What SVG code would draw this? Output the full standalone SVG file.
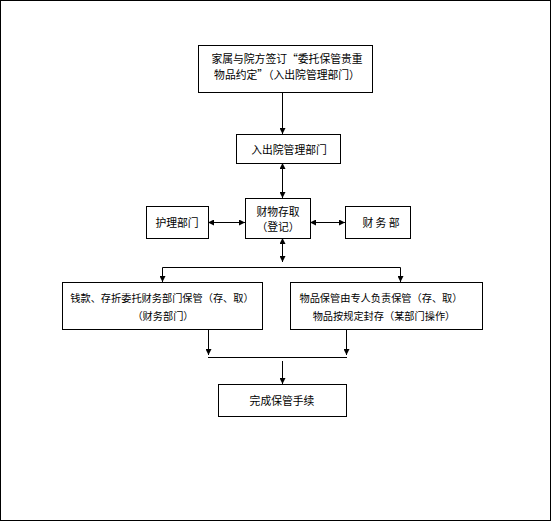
<svg xmlns="http://www.w3.org/2000/svg" width="552" height="522" viewBox="0 0 552 522">
<defs>
<marker id="ah" viewBox="0 0 10 10" refX="10" refY="5" markerWidth="6" markerHeight="6" orient="auto-start-reverse" markerUnits="userSpaceOnUse">
<path d="M0,0 L10,5 L0,10 Z" fill="#000"/>
</marker>
<style>
.box{fill:#fff;stroke:#000;stroke-width:1}
.t{font-family:"Noto Sans CJK SC","Liberation Sans",sans-serif;font-size:10.8px;fill:#000;text-anchor:middle;dominant-baseline:central}
.s{font-size:10.2px}
.c{fill:none;stroke:#000;stroke-width:1}
</style>
</defs>
<rect x="0.5" y="0.5" width="550" height="520" fill="#fff" stroke="#000"/>
<g id="connectors">
<line class="c" x1="282.5" y1="92" x2="282.5" y2="134" marker-end="url(#ah)"/>
<line class="c" x1="282.5" y1="163" x2="282.5" y2="198" marker-start="url(#ah)" marker-end="url(#ah)"/>
<line class="c" x1="208" y1="222.5" x2="245" y2="222.5" marker-start="url(#ah)" marker-end="url(#ah)"/>
<line class="c" x1="310" y1="222.5" x2="345" y2="222.5" marker-start="url(#ah)" marker-end="url(#ah)"/>
<line class="c" x1="282.5" y1="238" x2="282.5" y2="262" marker-start="url(#ah)" marker-end="url(#ah)"/>
<polyline class="c" points="162.5,282 162.5,267.5 400.5,267.5 400.5,282"/>
<line class="c" x1="162.5" y1="270" x2="162.5" y2="282" marker-end="url(#ah)"/>
<line class="c" x1="400.5" y1="270" x2="400.5" y2="282" marker-end="url(#ah)"/>
<line class="c" x1="208.5" y1="329" x2="208.5" y2="355" marker-end="url(#ah)"/>
<line class="c" x1="346.5" y1="329" x2="346.5" y2="355" marker-end="url(#ah)"/>
<line class="c" x1="208" y1="357.5" x2="347" y2="357.5"/>
<line class="c" x1="282.5" y1="361" x2="282.5" y2="384" marker-end="url(#ah)"/>
</g>
<g id="n1">
<rect class="box" x="198.5" y="45.5" width="174" height="47"/>
<text class="t" x="287" y="58">家属与院方签订“委托保管贵重</text>
<text class="t" x="287" y="74">物品约定”（入出院管理部门）</text>
</g>
<g id="n2">
<rect class="box" x="236.5" y="134.5" width="104" height="29"/>
<text class="t" x="289" y="149">入出院管理部门</text>
</g>
<g id="n3">
<rect class="box" x="245.5" y="198.5" width="65" height="40"/>
<text class="t" x="278" y="211">财物存取</text>
<text class="t" x="278" y="226">（登记）</text>
</g>
<g id="n4">
<rect class="box" x="146.5" y="206.5" width="62" height="32"/>
<text class="t" x="177" y="222">护理部门</text>
</g>
<g id="n5">
<rect class="box" x="345.5" y="206.5" width="65" height="32"/>
<text class="t" x="381" y="222">财 务 部</text>
</g>
<g id="n6">
<rect class="box" x="62.5" y="282.5" width="200" height="47"/>
<text class="t s" x="162" y="297">钱款、存折委托财务部门保管（存、取）</text>
<text class="t s" x="163" y="315">（财务部门）</text>
</g>
<g id="n7">
<rect class="box" x="290.5" y="282.5" width="192" height="47"/>
<text class="t s" x="381" y="297">物品保管由专人负责保管（存、取）</text>
<text class="t s" x="384" y="315">物品按规定封存（某部门操作）</text>
</g>
<g id="n8">
<rect class="box" x="218.5" y="384.5" width="128" height="32"/>
<text class="t" x="282" y="400">完成保管手续</text>
</g>
</svg>
